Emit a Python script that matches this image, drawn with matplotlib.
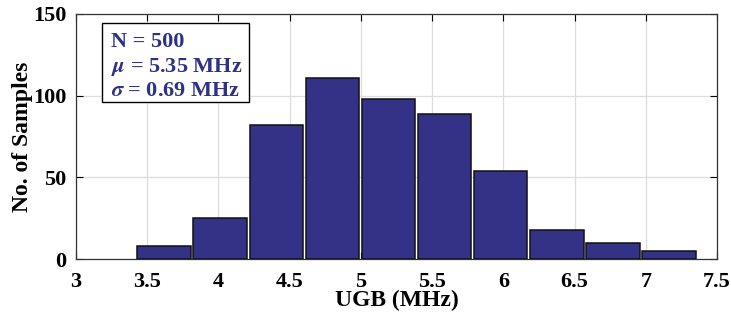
import numpy as np
import matplotlib.pyplot as plt
from matplotlib.patches import Rectangle

# histogram of UGB over 500 samples
bin_start = 3.43
bin_width = 0.394
counts = [8, 25, 82, 111, 98, 89, 54, 18, 10, 5]
n_samples = 500
mu = 5.35
sigma = 0.69

plt.rcParams['font.family'] = ['Liberation Serif', 'DejaVu Serif']
plt.rcParams['font.weight'] = 'bold'
plt.rcParams['mathtext.fontset'] = 'stix'

fig = plt.figure(figsize=(7.31, 3.24), dpi=100)
ax = fig.add_axes([0.104, 0.200, 0.877, 0.757])

edges = bin_start + bin_width * np.arange(len(counts))
ax.bar(edges, counts, width=bin_width * 0.95, align='edge',
       color='#343287', edgecolor='#111111', linewidth=1.1, zorder=3)

ax.set_xlim(3, 7.5)
ax.set_ylim(0, 150)
ax.set_xticks(np.arange(3, 7.51, 0.5))
ax.set_xticklabels(['3', '3.5', '4', '4.5', '5', '5.5', '6', '6.5', '7', '7.5'])
ax.set_yticks([0, 50, 100, 150])
ax.grid(True, color='#dddddd', linewidth=0.9, zorder=0)
ax.tick_params(direction='in', length=5, width=0.8, labelsize=16,
               top=True, right=True)
ax.tick_params(axis='x', pad=9)
ax.tick_params(axis='y', pad=7)
for s in ax.spines.values():
    s.set_linewidth(0.9)
    s.set_color('#333333')

ax.set_xlabel('UGB (MHz)', fontsize=17, fontweight='bold', labelpad=-1)
ax.set_ylabel('No. of Samples', fontsize=17, fontweight='bold', labelpad=0)

# stats box
box = Rectangle((0.04, 0.64), 0.23, 0.325, transform=ax.transAxes,
                facecolor='white', edgecolor='black', linewidth=1.0, zorder=5)
ax.add_patch(box)
tc = '#2e3287'
lines = ['N = %d' % n_samples,
         r'$\mu$ = %.2f MHz' % mu,
         r'$\sigma$ = %.2f MHz' % sigma]
for i, t in enumerate(lines):
    ax.text(0.055, 0.885 - i * 0.1, t, transform=ax.transAxes,
            fontsize=16, fontweight='bold', color=tc, va='center', zorder=6)

fig.savefig('out.png', dpi=100)
